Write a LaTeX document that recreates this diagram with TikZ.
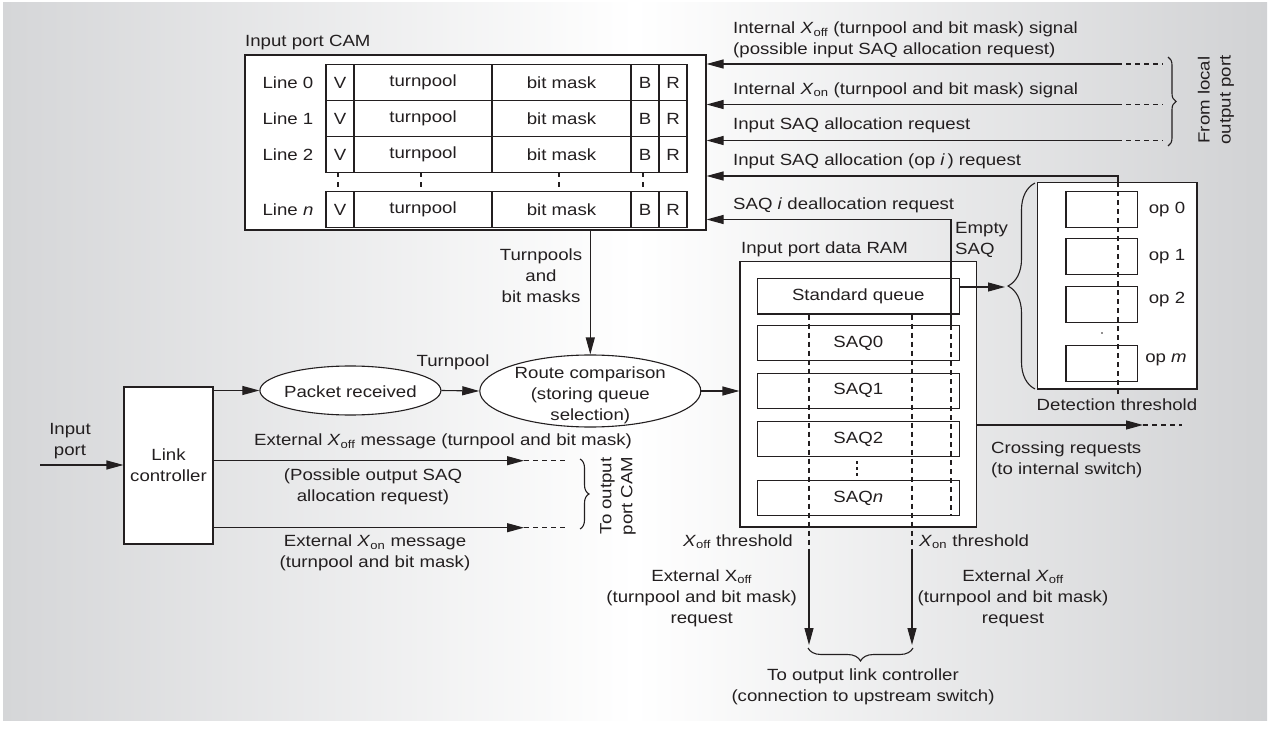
\documentclass[tikz,border=0pt]{standalone}
\usepackage{fontspec}
\setmainfont{Liberation Sans}[FakeStretch=1.15]
\usetikzlibrary{arrows.meta,decorations.pathreplacing,shapes.geometric}
\definecolor{ink}{HTML}{231F20}
\definecolor{bgL}{HTML}{D5D6D8}
\definecolor{bgR}{HTML}{D1D2D4}
\newcommand\Xoff{\textit{X}\textsubscript{off}}
\newcommand\Xon{\textit{X}\textsubscript{on}}
\begin{document}
\begin{tikzpicture}[x=1pt,y=-1pt,
  every node/.style={font=\fontsize{16.2}{21}\selectfont, text=ink, inner sep=0pt},
  box/.style={draw=ink, fill=white, line width=1.1pt, inner sep=0pt},
  ln/.style={draw=ink, line width=1.1pt},
  arr/.style={ln, -{Triangle[length=17pt,width=9pt]}},
  dsh/.style={ln, dash pattern=on 5pt off 4pt},
  brc/.style={ln, decorate, decoration={brace, amplitude=#1}},
  oval/.style={ellipse, draw=ink, fill=white, line width=1.1pt},
]
\useasboundingbox (0,0) rectangle (1270,738);
\shade[left color=bgL, right color=bgR, middle color=white] (3,3) rectangle (1267,720);

% ---------- Input port CAM ----------
\node[box, minimum width=461pt, minimum height=175pt] (cam) at (475.5,142.5) {};
\node[anchor=west] (camlbl) at (245,43) {Input port CAM};
\foreach \r/\y/\lbl in {0/82.5/Line 0, 1/118.5/Line 1, 2/154.5/Line 2, n/209.5/{Line \textit{n}}} {
  \node (line\r) at (288,\y) {\lbl};
  \node[box, minimum width=28pt, minimum height=36pt] (v\r) at (340,\y) {V};
  \node[box, minimum width=138pt, minimum height=36pt] (tp\r) at (423,\y) {turnpool};
  \node[box, minimum width=139pt, minimum height=36pt] (bm\r) at (561.5,\y) {bit mask};
  \node[box, minimum width=28pt, minimum height=36pt] (b\r) at (645,\y) {B};
  \node[box, minimum width=28pt, minimum height=36pt] (r\r) at (673,\y) {R};
}
\foreach \x in {338,421,559,643} \draw[ln, dash pattern=on 5pt off 5pt] (\x,172.5) -- (\x,191.5);

% ---------- Input port data RAM ----------
\node[box, minimum width=236.7pt, minimum height=265.3pt] (ram) at (858.35,394.35) {};
\node[anchor=west] (ramlbl) at (741,249) {Input port data RAM};
\node[box, minimum width=202pt, minimum height=35.7pt] (sq) at (858.3,296.15) {Standard queue};
\node[box, minimum width=202pt, minimum height=35pt] (saq0) at (858.3,343.4) {SAQ0};
\node[box, minimum width=202pt, minimum height=35pt] (saq1) at (858.3,390.8) {SAQ1};
\node[box, minimum width=202pt, minimum height=35pt] (saq2) at (858.3,438.9) {SAQ2};
\node[box, minimum width=202pt, minimum height=35pt] (saqn) at (858.3,498) {SAQ\textit{n}};
\draw[ln, dash pattern=on 3pt off 3pt] (857,461) -- (857,477);

% ---------- output-port boxes ----------
\node[box, minimum width=159.5pt, minimum height=206.3pt] (opbox) at (1117.25,285.85) {};
\node[box, minimum width=71.7pt, minimum height=35.6pt] (op0) at (1101.85,209.5) {};
\node[box, minimum width=71.7pt, minimum height=35.6pt] (op1) at (1101.85,256.7) {};
\node[box, minimum width=71.7pt, minimum height=35.6pt] (op2) at (1101.85,304.4) {};
\node[box, minimum width=71.7pt, minimum height=35.3pt] (opm) at (1101.85,363.4) {};
\node (op0l) at (1167,209.3) {op 0};
\node (op1l) at (1167,257) {op 1};
\node (op2l) at (1167,300) {op 2};
\node (opml) at (1166,360) {op \textit{m}};
\fill[ink] (1102,333) circle (0.8pt);
\node (detlbl) at (1117,405) {Detection threshold};

% ---------- right-side signals into the CAM ----------
\coordinate (s1) at (1117,64);
\coordinate (s1d) at (1163,64);
\coordinate (s2) at (1117,104.5);
\coordinate (s2d) at (1163,104.5);
\coordinate (s3) at (1117,140.5);
\coordinate (s3d) at (1163,140.5);
\draw[arr] (s1) -- (cam.east |- s1);
\draw[arr] (s2) -- (cam.east |- s2);
\draw[arr] (s3) -- (cam.east |- s3);
\draw[dsh] (s1) -- (s1d);
\draw[dsh] (s2) -- (s2d);
\draw[dsh] (s3) -- (s3d);
\node[anchor=west, align=left] (t1) at (733,40) {Internal \Xoff{} (turnpool and bit mask) signal\\(possible input SAQ allocation request)};
\node[anchor=west] (t2) at (733,90) {Internal \Xon{} (turnpool and bit mask) signal};
\node[anchor=west] (t3) at (733,125.5) {Input SAQ allocation request};
\node[anchor=west] (t4) at (733,161) {Input SAQ allocation (op \textit{i}\,) request};
\node[anchor=west] (t5) at (733,205) {SAQ \textit{i} deallocation request};
\draw[brc=8pt] (1168,57) -- (1168,146);
\node[rotate=90, align=center] (fromlocal) at (1216,100) {From local\\output port};

% op i request
\coordinate (c4) at (1118,176);
\draw[arr] (opbox.north -| c4) -- (c4) -- (cam.east |- c4);
\draw[dsh] (opbox.north -| c4) -- (1118,397);
% SAQ i deallocation
\coordinate (c5) at (951,219.5);
\draw[arr] (saq0.north -| c5) -- (c5) -- (cam.east |- c5);
\draw[dsh] (saq0.north -| c5) -- (saqn.south -| c5);
\node[anchor=west, align=left] (empty) at (955,239.5) {Empty\\SAQ};

% standard queue to op boxes
\coordinate (brtip) at (1005,287);
\draw[arr] (sq.east |- brtip) -- (brtip);
\draw[brc=27pt] (1035,389) -- (1035,183);

% crossing requests
\coordinate (cr) at (1143,425);
\coordinate (crd) at (1182,425);
\draw[arr] (ram.east |- cr) -- (cr);
\draw[dsh] (cr) -- (crd);
\node[anchor=west, align=left] (crlbl) at (991,460) {Crossing requests\\(to internal switch)};

% thresholds
\coordinate (xoffa) at (809,552);
\coordinate (xoffb) at (809,645);
\coordinate (xona) at (912,552);
\coordinate (xonb) at (912,645);
\draw[dsh] (sq.south -| xoffa) -- (xoffa);
\draw[dsh] (sq.south -| xona) -- (xona);
\draw[arr] (xoffa) -- (xoffb);
\draw[arr] (xona) -- (xonb);
\node[anchor=east] (xofft) at (793,541.7) {\Xoff{} threshold};
\node[anchor=west] (xont) at (919,541.7) {\Xon{} threshold};
\node[align=center] (reql) at (701.7,598) {External X\textsubscript{off}\\(turnpool and bit mask)\\request};
\node[align=center] (reqr) at (1013,598) {External \Xoff\\(turnpool and bit mask)\\request};
\draw[brc=13pt] (913,648) -- (808,648);
\node[align=center] (tolink) at (863,687) {To output link controller\\(connection to upstream switch)};

% ---------- link controller side ----------
\node[box, minimum width=89pt, minimum height=157pt, align=center] (link) at (168.5,465.5) {Link\\controller};
\coordinate (inp) at (40,465);
\draw[arr] (inp) -- (link.west |- inp);
\node[align=center] (inplbl) at (70,441) {Input\\port};

\node[oval, minimum width=181pt, minimum height=49pt] (pkt) at (350.4,390.5) {};
\node (pkttxt) at (350.4,391.5) {Packet received};
\node[oval, minimum width=221pt, minimum height=72pt] (route) at (590.3,391) {};
\node[align=center] (routetxt) at (590.3,395) {Route comparison\\(storing queue\\selection)};
\draw[arr] (link.east |- pkt.west) -- (pkt.west);
\draw[arr] (pkt.east) -- (route.west);
\draw[arr] (route.east) -- (ram.west |- route.east);
\draw[arr] (cam.south -| route.north) -- (route.north);
\node[align=center] (tpbm) at (541,276) {Turnpools\\and\\bit masks};
\node (tplbl) at (453,362) {Turnpool};

\coordinate (e1) at (524,460.7);
\coordinate (e1d) at (567,460.7);
\coordinate (e2) at (524,527.7);
\coordinate (e2d) at (567,527.7);
\draw[arr] (link.east |- e1) -- (e1);
\draw[arr] (link.east |- e2) -- (e2);
\draw[dsh] (e1) -- (e1d);
\draw[dsh] (e2) -- (e2d);
\node (ext1) at (443,441.7) {External \Xoff{} message (turnpool and bit mask)};
\node[align=center] (poss) at (373,487) {(Possible output SAQ\\allocation request)};
\node[align=center] (ext2) at (375,553.3) {External \Xon{} message\\(turnpool and bit mask)};
\draw[brc=9pt] (580,459) -- (580,529);
\node[rotate=90, align=center] (tocam) at (618,496) {To output\\port CAM};
\end{tikzpicture}
\end{document}
